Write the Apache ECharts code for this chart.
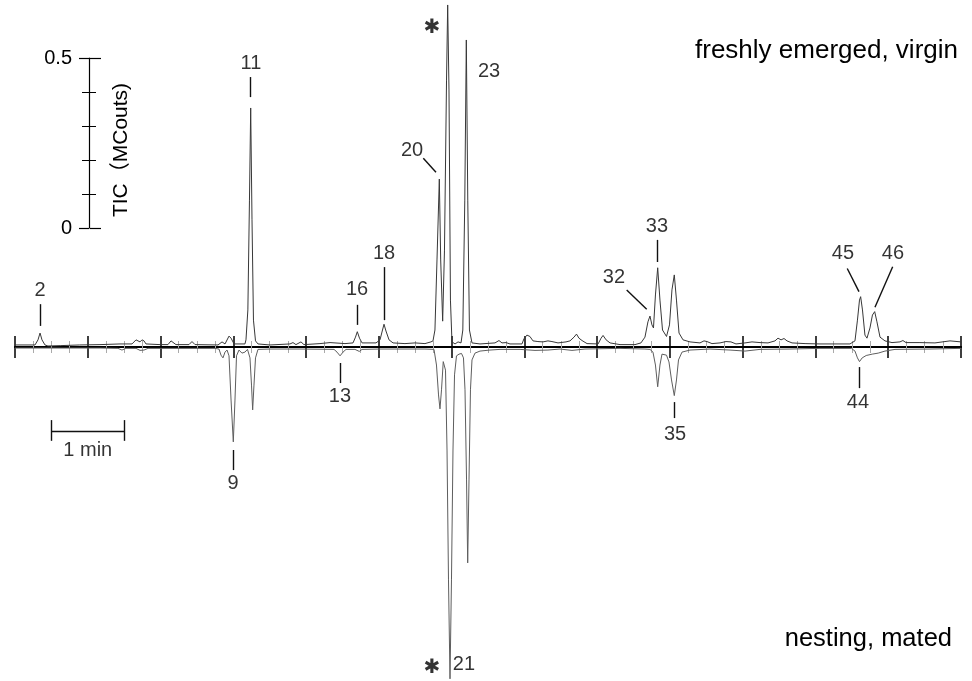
<!DOCTYPE html>
<html><head><meta charset="utf-8">
<script src="https://cdn.jsdelivr.net/npm/echarts@6/dist/echarts.min.js"></script>
<style>html,body{margin:0;padding:0;background:#fff}#c{width:972px;height:681px}</style>
</head><body><div id="c"></div>
<script>
// time in minutes, signal in MCounts (upper trace: freshly emerged, virgin)
const upperTrace = [
[0,0.006],[0.275,0.006],[0.316,0.021],[0.344,0.041],[0.371,0.021],[0.412,0.006],[0.453,0.003],[0.62,0.004],[0.89,0.006],
[1.168,0.007],[1.443,0.009],[1.608,0.009],[1.663,0.021],[1.69,0.024],[1.718,0.015],[1.745,0.021],[1.773,0.018],[1.8,0.009],
[1.993,0.007],[2.102,0.007],[2.144,0.018],[2.171,0.018],[2.212,0.007],[2.391,0.007],[2.432,0.016],[2.474,0.007],
[2.79,0.006],[2.845,0.015],[2.886,0.009],[2.941,0.032],[2.969,0.026],[3.01,0.009],[3.16,0.009],
[3.174,0.021],[3.2,0.109],[3.222,0.432],[3.239,0.703],[3.257,0.374],[3.277,0.079],[3.305,0.018],[3.339,0.009],
[3.504,0.006],[3.779,0.009],[3.82,0.013],[3.861,0.007],[3.93,0.015],[3.971,0.007],
[4.191,0.010],[4.329,0.013],[4.535,0.010],[4.645,0.012],[4.679,0.029],[4.704,0.045],[4.734,0.026],[4.769,0.012],
[4.961,0.012],[5.016,0.021],[5.043,0.044],[5.071,0.067],[5.098,0.047],[5.14,0.021],[5.195,0.012],
[5.359,0.010],[5.497,0.012],[5.634,0.010],[5.716,0.015],
[5.744,0.018],[5.771,0.05],[5.799,0.256],[5.831,0.494],[5.85,0.256],[5.877,0.076],[5.902,0.285],[5.93,0.785],[5.946,1.006],[5.964,0.756],[5.984,0.138],[6.005,0.015],[6.047,0.009],[6.088,0.015],[6.129,0.012],
[6.154,0.05],[6.181,0.432],[6.202,0.903],[6.222,0.432],[6.245,0.05],[6.28,0.012],[6.39,0.009],
[6.596,0.012],[6.651,0.019],[6.692,0.012],[6.747,0.013],[6.802,0.009],[6.967,0.009],[6.994,0.024],[7.035,0.035],[7.076,0.031],[7.118,0.018],[7.186,0.016],[7.255,0.015],[7.324,0.018],[7.379,0.016],[7.462,0.012],[7.572,0.015],[7.627,0.018],[7.682,0.029],[7.716,0.038],[7.75,0.026],[7.792,0.019],[7.861,0.010],[8.013,0.009],[8.054,0.026],[8.081,0.034],[8.123,0.021],[8.177,0.012],[8.314,0.007],[8.52,0.007],
[8.602,0.012],[8.657,0.029],[8.698,0.074],[8.726,0.091],[8.753,0.065],[8.774,0.056],[8.801,0.153],[8.832,0.233],[8.863,0.138],[8.898,0.05],[8.953,0.031],[8.994,0.065],[9.028,0.168],[9.06,0.212],[9.09,0.138],[9.125,0.041],[9.18,0.021],[9.276,0.015],[9.413,0.012],[9.468,0.018],[9.509,0.016],[9.578,0.010],
[9.688,0.012],[9.771,0.016],[9.839,0.015],[9.908,0.009],[10.032,0.012],[10.128,0.015],[10.238,0.013],[10.348,0.012],[10.444,0.018],[10.485,0.026],[10.527,0.021],[10.568,0.025],[10.609,0.018],[10.678,0.012],[10.857,0.010],[11.062,0.009],[11.474,0.009],
[11.543,0.018],[11.577,0.079],[11.605,0.138],[11.621,0.148],[11.646,0.109],[11.68,0.035],[11.708,0.026],[11.749,0.056],[11.783,0.094],[11.814,0.104],[11.845,0.074],[11.887,0.029],[11.955,0.018],[12.052,0.013],
[12.161,0.015],[12.202,0.019],[12.244,0.013],[12.436,0.013],[12.642,0.012],[12.78,0.016],[12.849,0.018],[13,0.015]
];
// lower trace: nesting, mated (mirrored, negative values)
const lowerTrace = [
[0,-0.003],[0.481,-0.003],[1.168,-0.003],[1.415,-0.004],[1.47,-0.009],[1.525,-0.004],[1.663,-0.004],[1.718,-0.010],[1.773,-0.009],[1.828,-0.004],[2.542,-0.004],[2.748,-0.004],
[2.803,-0.006],[2.831,-0.024],[2.858,-0.032],[2.886,-0.015],[2.914,-0.009],[2.941,-0.026],[2.969,-0.156],[3.0,-0.279],[3.023,-0.156],[3.044,-0.026],[3.078,-0.009],[3.119,-0.018],[3.16,-0.015],[3.195,-0.007],
[3.229,-0.032],[3.25,-0.112],[3.266,-0.185],[3.284,-0.112],[3.305,-0.032],[3.339,-0.007],[3.504,-0.006],[3.916,-0.006],
[4.384,-0.007],[4.425,-0.015],[4.467,-0.026],[4.508,-0.015],[4.549,-0.007],[4.672,-0.007],[4.731,-0.013],[4.769,-0.007],[5.016,-0.006],[5.634,-0.006],
[5.758,-0.007],[5.792,-0.053],[5.82,-0.141],[5.84,-0.182],[5.861,-0.126],[5.885,-0.043],
[5.916,-0.068],[5.937,-0.303],[5.957,-0.685],[5.978,-0.976],[5.998,-0.685],[6.019,-0.303],[6.04,-0.082],[6.067,-0.026],[6.102,-0.021],[6.136,-0.019],[6.163,-0.032],
[6.184,-0.126],[6.205,-0.391],[6.221,-0.635],[6.239,-0.391],[6.259,-0.126],[6.28,-0.038],[6.321,-0.018],[6.39,-0.012],[6.527,-0.009],[6.665,-0.007],
[6.94,-0.007],[7.146,-0.010],[7.324,-0.009],[7.489,-0.006],[7.654,-0.010],[7.833,-0.006],[8.314,-0.004],[8.657,-0.006],
[8.726,-0.007],[8.767,-0.015],[8.801,-0.053],[8.832,-0.117],[8.863,-0.053],[8.891,-0.021],[8.918,-0.016],[8.953,-0.024],[8.987,-0.044],[9.022,-0.097],[9.06,-0.143],[9.09,-0.097],[9.118,-0.038],[9.166,-0.015],[9.276,-0.009],[9.551,-0.006],
[9.826,-0.009],[10.032,-0.012],[10.238,-0.007],[10.65,-0.006],[11.062,-0.004],[11.494,-0.004],
[11.543,-0.012],[11.577,-0.032],[11.605,-0.043],[11.642,-0.032],[11.697,-0.025],[11.78,-0.021],[11.862,-0.018],[11.955,-0.012],[12.093,-0.007],[12.574,-0.006],[13,-0.004]
];
// peak numbers: [text, time, signal]
const peakLabels = [
['2',0.344,0.165],['11',3.243,0.835],['16',4.70,0.168],['18',5.071,0.274],['20',5.456,0.579],
['23',6.514,0.809],['32',8.231,0.203],['33',8.822,0.353],['45',11.378,0.276],['46',12.065,0.276],
['13',4.466,-0.147],['9',2.996,-0.40],['35',9.07,-0.256],['44',11.584,-0.162],['21',6.17,-0.935]
];
const starLabels = [['✱',5.73,0.94],['✱',5.73,-0.944]];
// leader lines: [t1, y1, t2, y2]
const leaders = [
[0.344,0.126,0.344,0.062],[3.236,0.794,3.236,0.735],[4.708,0.124,4.708,0.065],[5.071,0.235,5.071,0.079],
[5.611,0.555,5.785,0.514],[8.406,0.168,8.681,0.111],[8.832,0.315,8.832,0.25],
[11.437,0.231,11.598,0.163],[12.061,0.236,11.818,0.117],
[4.466,-0.047,4.466,-0.106],[3.0,-0.303,3.0,-0.362],[9.06,-0.162,9.06,-0.209],[11.602,-0.059,11.602,-0.121]
];
const scaleBar = [[0.5,-0.247,1.5,-0.247],[0.5,-0.215,0.5,-0.276],[1.5,-0.215,1.5,-0.276]];
const scaleBarLabel = [['1 min',1.0,-0.303]];
const timeRange = [0, 13];
const ticRange = [0, 0.5];
const ticName = 'TIC（MCouts)';
const captions = ['freshly emerged, virgin', 'nesting, mated'];

const font = "'Liberation Sans', Arial, 'Noto Sans CJK JP', sans-serif";
const chart = echarts.init(document.getElementById('c'));
const tickStyle = {color:'#000', width:1.5};
const minorStyle = {color:'#aaa', width:1};
const textLabel = {show:true, position:'inside', formatter:'{b}', fontSize:20, color:'#000', fontFamily:font};
chart.setOption({
  animation:false,
  backgroundColor:'#fff',
  grid:[{left:15,right:11,top:0.2,bottom:0.8},{left:89,width:1,top:58,height:170}],
  xAxis:[
    {gridIndex:0,type:'value',min:timeRange[0],max:timeRange[1],interval:1,position:'bottom',
     axisLine:{show:true,onZero:true,onZeroAxisIndex:0,lineStyle:{color:'#000',width:1.8}},
     axisTick:{show:true,inside:false,length:11,lineStyle:tickStyle},
     minorTick:{show:true,splitNumber:4,length:6,lineStyle:minorStyle},
     axisLabel:{show:false},splitLine:{show:false},minorSplitLine:{show:false}},
    {gridIndex:0,type:'value',min:timeRange[0],max:timeRange[1],interval:1,position:'bottom',
     axisLine:{show:true,onZero:true,onZeroAxisIndex:0,lineStyle:{color:'#000',width:1.8}},
     axisTick:{show:true,inside:true,length:11,lineStyle:tickStyle},
     minorTick:{show:true,splitNumber:4,length:6,lineStyle:minorStyle},
     axisLabel:{show:false},splitLine:{show:false},minorSplitLine:{show:false}},
    {gridIndex:1,type:'value',min:0,max:1,show:false}
  ],
  yAxis:[
    {gridIndex:0,type:'value',min:-0.98,max:1.02,show:false,splitLine:{show:false}},
    {gridIndex:1,type:'value',min:ticRange[0],max:ticRange[1],interval:0.5,position:'left',
     axisLine:{show:true,onZero:false,lineStyle:{color:'#000',width:1.2}},
     axisTick:{show:true,inside:false,length:10,lineStyle:{color:'#000',width:1.2}},
     minorTick:{show:true,splitNumber:5,length:7,lineStyle:{color:'#000',width:1}},
     axisLabel:{show:true,margin:17,fontSize:20,color:'#000',fontFamily:font},
     splitLine:{show:false}},
    {gridIndex:1,type:'value',min:ticRange[0],max:ticRange[1],interval:0.5,position:'right',
     name:ticName,nameLocation:'middle',nameGap:21,
     nameTextStyle:{fontSize:21,color:'#000',fontFamily:font,padding:[0,14,0,0]},
     axisLine:{show:false,onZero:false},
     axisTick:{show:true,inside:false,length:11,lineStyle:{color:'#000',width:1.2}},
     minorTick:{show:true,splitNumber:5,length:6,lineStyle:{color:'#000',width:1}},
     axisLabel:{show:false},splitLine:{show:false}}
  ],
  series:[
    {type:'line',xAxisIndex:0,yAxisIndex:0,data:lowerTrace,symbol:'none',clip:false,z:2,
     lineStyle:{color:'#5e5e5e',width:1}},
    {type:'line',xAxisIndex:0,yAxisIndex:0,data:upperTrace,symbol:'none',clip:false,z:3,
     lineStyle:{color:'#383838',width:1}},
    {type:'lines',coordinateSystem:'cartesian2d',xAxisIndex:0,yAxisIndex:0,z:4,
     data:leaders.map(l=>({coords:[[l[0],l[1]],[l[2],l[3]]]})),
     lineStyle:{color:'#111',width:1.4,opacity:1,curveness:0}},
    {type:'lines',coordinateSystem:'cartesian2d',xAxisIndex:0,yAxisIndex:0,z:4,
     data:scaleBar.map(l=>({coords:[[l[0],l[1]],[l[2],l[3]]]})),
     lineStyle:{color:'#111',width:1.4,opacity:1,curveness:0}},
    {type:'scatter',xAxisIndex:0,yAxisIndex:0,symbolSize:1,itemStyle:{color:'rgba(0,0,0,0)'},z:5,clip:false,
     data:peakLabels.concat(scaleBarLabel).map(p=>({name:p[0],value:[p[1],p[2]]})),label:textLabel},
    {type:'scatter',xAxisIndex:0,yAxisIndex:0,symbolSize:1,itemStyle:{color:'rgba(0,0,0,0)'},z:5,clip:false,
     data:starLabels.map(p=>({name:p[0],value:[p[1],p[2]]})),
     label:Object.assign({},textLabel,{fontSize:20,fontFamily:"'DejaVu Sans', sans-serif"})}
  ],
  graphic:[
    {type:'text',x:958,y:51,style:{text:captions[0],fontSize:26,fontFamily:font,fill:'#000',align:'right',verticalAlign:'middle'}},
    {type:'text',x:952,y:639,style:{text:captions[1],fontSize:25.5,fontFamily:font,fill:'#000',align:'right',verticalAlign:'middle'}}
  ]
});
</script></body></html>
